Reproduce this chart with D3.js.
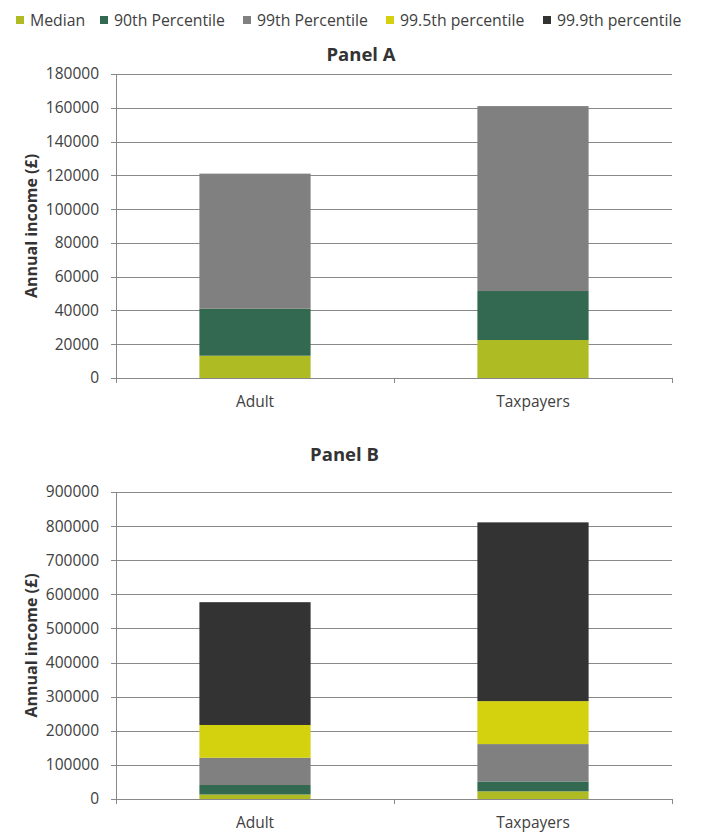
<!DOCTYPE html>
<html>
<head>
<meta charset="utf-8">
<script src="https://cdn.jsdelivr.net/npm/d3@7"></script>
<style>
  body { margin: 0; background: #fff; }
  text { font-family: "Open Sans", "Noto Sans", sans-serif; }
</style>
</head>
<body>
<div id="chart"></div>
<script>
// categories and series
var categories = ["Adult", "Taxpayers"];
var seriesNames = ["Median", "90th Percentile", "99th Percentile", "99.5th percentile", "99.9th percentile"];
var seriesColors = ["#afbb22", "#336950", "#808080", "#d4d10e", "#333333"];

// Panel A: median, 90th, 99th (top of each segment)
var panelAValues = [
  [13200, 41000, 121000],
  [22500, 51500, 161000]
];
var panelATicks = [0, 20000, 40000, 60000, 80000, 100000, 120000, 140000, 160000, 180000];

// Panel B: all five percentiles
var panelBValues = [
  [13200, 41000, 121000, 217000, 577000],
  [22500, 51500, 161000, 287000, 811000]
];
var panelBTicks = [0, 100000, 200000, 300000, 400000, 500000, 600000, 700000, 800000, 900000];

var width = 704, height = 839;
var svg = d3.select("#chart").append("svg")
    .attr("width", width)
    .attr("height", height);

var textColor = "#404040";
var gridColor = "#888888";

// legend
var legendX = [16, 100, 243, 386, 543];
var legend = svg.append("g");
seriesNames.forEach(function (name, i) {
  legend.append("rect")
    .attr("x", legendX[i]).attr("y", 16)
    .attr("width", 8).attr("height", 8)
    .attr("fill", seriesColors[i]);
  legend.append("text")
    .attr("x", legendX[i] + 14).attr("y", 25.5)
    .attr("font-size", 15.8)
    .attr("fill", textColor)
    .text(name);
});

function drawPanel(title, values, ticks, top, bottom, titleX, titleY) {
  var left = 116, right = 672;
  var g = svg.append("g");

  var x = d3.scaleBand().domain(categories).range([left, right]).paddingInner(0).paddingOuter(0);
  var y = d3.scaleLinear().domain([0, ticks[ticks.length - 1]]).range([bottom, top]);

  // gridlines
  g.selectAll(".grid").data(ticks).enter().append("line")
    .attr("x1", left - 5).attr("x2", right)
    .attr("y1", function (d) { return Math.round(y(d)) + 0.5; })
    .attr("y2", function (d) { return Math.round(y(d)) + 0.5; })
    .attr("stroke", gridColor).attr("stroke-width", 1);

  // y axis line
  g.append("line")
    .attr("x1", left + 0.5).attr("x2", left + 0.5)
    .attr("y1", Math.round(top)).attr("y2", Math.round(bottom) + 0.5)
    .attr("stroke", gridColor);

  // tick labels
  g.selectAll(".ytick").data(ticks).enter().append("text")
    .attr("x", left - 17)
    .attr("y", function (d) { return y(d); })
    .attr("dy", "0.35em")
    .attr("text-anchor", "end")
    .attr("font-size", 15.5)
    .attr("fill", textColor)
    .text(function (d) { return d; });

  // bars: segments between successive percentiles
  var barW = x.bandwidth() * 0.4;
  values.forEach(function (vals, ci) {
    var cx = x(categories[ci]) + x.bandwidth() / 2;
    vals.forEach(function (v, si) {
      var prev = si === 0 ? 0 : vals[si - 1];
      g.append("rect")
        .attr("x", cx - barW / 2)
        .attr("width", barW)
        .attr("y", y(v))
        .attr("height", y(prev) - y(v))
        .attr("fill", seriesColors[si]);
    });
  });

  // x axis ticks at band edges
  var edges = [left, left + x.bandwidth(), right];
  g.selectAll(".xtick").data(edges).enter().append("line")
    .attr("x1", function (d) { return Math.round(d) + 0.5; })
    .attr("x2", function (d) { return Math.round(d) + 0.5; })
    .attr("y1", Math.round(bottom)).attr("y2", Math.round(bottom) + 5)
    .attr("stroke", gridColor);

  // category labels
  g.selectAll(".xlabel").data(categories).enter().append("text")
    .attr("x", function (d) { return x(d) + x.bandwidth() / 2; })
    .attr("y", bottom + 29)
    .attr("text-anchor", "middle")
    .attr("font-size", 15.5)
    .attr("fill", textColor)
    .text(function (d) { return d; });

  // panel title
  g.append("text")
    .attr("x", titleX)
    .attr("y", titleY)
    .attr("text-anchor", "middle")
    .attr("font-size", 18.5)
    .attr("font-weight", "bold")
    .attr("fill", "#333333")
    .text(title);

  // y axis title
  g.append("text")
    .attr("transform", "translate(37," + ((top + bottom) / 2) + ") rotate(-90)")
    .attr("text-anchor", "middle")
    .attr("font-size", 16)
    .attr("font-weight", "bold")
    .attr("fill", "#333333")
    .text("Annual income (£)");
}

drawPanel("Panel A", panelAValues, panelATicks, 74, 378, 361, 61);
drawPanel("Panel B", panelBValues, panelBTicks, 492, 799, 344.5, 461);
</script>
</body>
</html>
